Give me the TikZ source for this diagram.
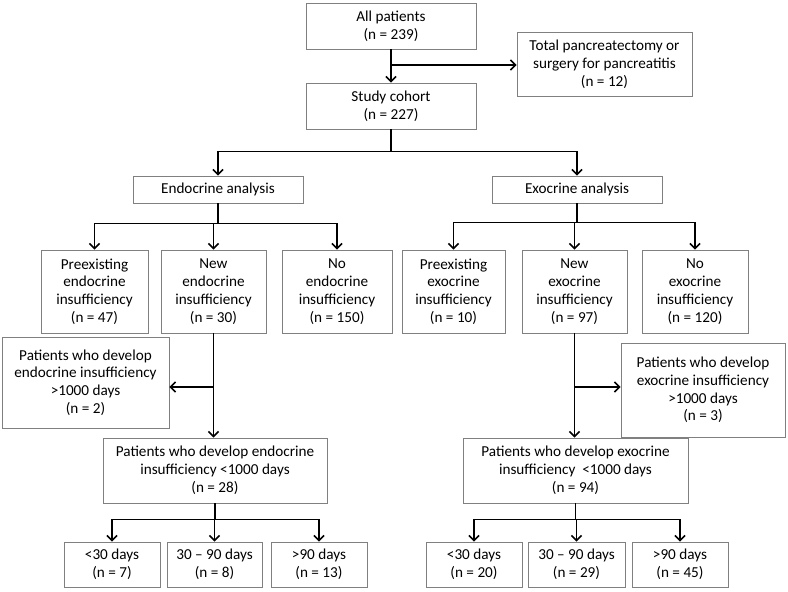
\documentclass[tikz,border=0pt]{standalone}
\usepackage{fontspec}
\setmainfont{Carlito}
\usepackage{xcolor}
\usepackage{tikz}
\usetikzlibrary{arrows.meta}

\begin{document}
\begin{tikzpicture}[x=1pt,y=-1pt,
box/.style={rectangle,draw=black!50,line width=0.8pt,fill=white,
inner sep=0pt,align=center,font=\fontsize{15.2}{17.8}\selectfont},
link/.style={line width=1.6pt,-{Straight Barb[length=5pt,width=10pt]}},
trunk/.style={line width=1.6pt}]
\useasboundingbox (0,0) rectangle (788,592);
% top of the chart
\node[box,minimum width=170pt,minimum height=46pt] (all) at (391,26) {All patients\\(n = 239)};
\node[box,minimum width=175pt,minimum height=64pt] (excluded) at (604.5,64) {Total pancreatectomy or\\surgery for pancreatitis\\(n = 12)};
\node[box,minimum width=170pt,minimum height=46pt] (cohort) at (391,106) {Study cohort\\(n = 227)};
\node[box,minimum width=170pt,minimum height=27pt] (endo) at (218,189.5) {Endocrine analysis};
\node[box,minimum width=170pt,minimum height=27pt] (exo) at (577,189.5) {Exocrine analysis};
% endocrine side
\node[box,minimum width=107pt,minimum height=83pt] (pre endo) at (94.5,291.5) {Preexisting\\endocrine\\insufficiency\\(n = 47)};
\node[box,minimum width=105pt,minimum height=83pt] (new endo) at (213.5,291.5) {New\\endocrine\\insufficiency\\(n = 30)};
\node[box,minimum width=110pt,minimum height=83pt] (no endo) at (337,291.5) {No\\endocrine\\insufficiency\\(n = 150)};
\node[box,minimum width=167pt,minimum height=91pt] (late endo) at (85.5,382.5) {Patients who develop\\endocrine insufficiency\\>1000 days\\(n = 2)};
\node[box,minimum width=224pt,minimum height=65pt] (early endo) at (215,470.5) {Patients who develop endocrine\\insufficiency <1000 days\\(n = 28)};
\node[box,minimum width=96pt,minimum height=45pt] (endo a) at (112,564.5) {<30 days\\(n = 7)};
\node[box,minimum width=95pt,minimum height=45pt] (endo b) at (214.5,564.5) {30 – 90 days\\(n = 8)};
\node[box,minimum width=96pt,minimum height=45pt] (endo c) at (319,564.5) {>90 days\\(n = 13)};
% exocrine side
\node[box,minimum width=103pt,minimum height=83pt] (pre exo) at (453.5,291.5) {Preexisting\\exocrine\\insufficiency\\(n = 10)};
\node[box,minimum width=105pt,minimum height=83pt] (new exo) at (574.5,291.5) {New\\exocrine\\insufficiency\\(n = 97)};
\node[box,minimum width=106pt,minimum height=83pt] (no exo) at (695,291.5) {No\\exocrine\\insufficiency\\(n = 120)};
\node[box,minimum width=164pt,minimum height=94pt] (late exo) at (703,390) {Patients who develop\\exocrine insufficiency\\>1000 days\\(n = 3)};
\node[box,minimum width=225pt,minimum height=65pt] (early exo) at (575.5,470.5) {Patients who develop exocrine\\insufficiency\ \ <1000 days\\(n = 94)};
\node[box,minimum width=96pt,minimum height=45pt] (exo a) at (474,564.5) {<30 days\\(n = 20)};
\node[box,minimum width=97pt,minimum height=45pt] (exo b) at (576.5,564.5) {30 – 90 days\\(n = 29)};
\node[box,minimum width=96pt,minimum height=45pt] (exo c) at (680,564.5) {>90 days\\(n = 45)};
% connectors
\draw[link] (all) -- (cohort);
\coordinate (drop) at (391,65);
\draw[link] (drop) -- (excluded.west |- drop);
\draw[trunk] (cohort.south) -- ++(0,22) coordinate (split);
\draw[link] (split) -| (endo.north);
\draw[link] (split) -| (exo.north);
\draw[trunk] (endo.south) -- ++(0,20) coordinate (endo split);
\foreach \n in {pre endo,new endo,no endo}
  \draw[link] (endo split) -| (\n.north);
\draw[trunk] (exo.south) -- ++(0,19) coordinate (exo split);
\foreach \n in {pre exo,new exo,no exo}
  \draw[link] (exo split) -| (\n.north);
\draw[link] (new endo.south) -- (new endo.south |- early endo.north);
\coordinate (endo late) at (new endo.south |- 0,387);
\draw[link] (endo late) -- (endo late -| late endo.east);
\draw[link] (new exo.south) -- (new exo.south |- early exo.north);
\coordinate (exo late) at (new exo.south |- 0,387);
\draw[link] (exo late) -- (exo late -| late exo.west);
\draw[trunk] (early endo.south) -- ++(0,16) coordinate (endo days);
\foreach \n in {endo a,endo b,endo c}
  \draw[link] (endo days) -| (\n.north);
\draw[trunk] (early exo.south) -- ++(0,16) coordinate (exo days);
\foreach \n in {exo a,exo b,exo c}
  \draw[link] (exo days) -| (\n.north);
\end{tikzpicture}
\end{document}
